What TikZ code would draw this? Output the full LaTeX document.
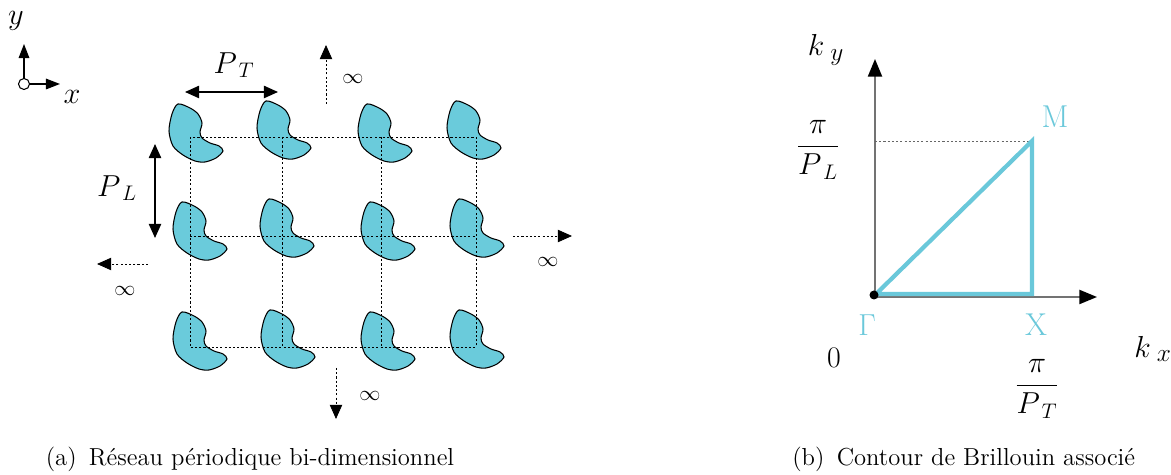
\documentclass[tikz,border=0pt]{standalone}
\usetikzlibrary{arrows.meta}
\definecolor{motif}{HTML}{6ACBDB}
\definecolor{zone}{HTML}{6AC8DA}
\begin{document}
\begin{tikzpicture}[x=0.02cm,y=-0.02cm,
  blob/.style={draw=black,fill=motif,line width=0.6pt},
  grille/.style={dash pattern=on 1.2pt off 1.2pt,line width=0.5pt},
  infini/.style={grille,-{Triangle[width=7pt,length=8pt]}},
  cote/.style={line width=0.8pt,{Triangle[width=7pt,length=8pt]}-{Triangle[width=7pt,length=8pt]}},
  fleche/.style={line width=0.8pt,-{Triangle[width=6pt,length=8pt]}},
  axe/.style={draw=black!55,line width=1pt,-{Triangle[width=8pt,length=10pt,color=black]}},
  lab/.style={font=\fontsize{17}{19}\selectfont,inner sep=0pt},
  inf/.style={font=\fontsize{12}{13}\selectfont,inner sep=0pt},
  pt/.style={lab,font=\fontsize{18}{20}\selectfont,text=zone},
  legende/.style={font=\fontsize{14}{16}\selectfont,inner sep=0pt}]
   \useasboundingbox (0,0) rectangle (1171,475);

   % (a) reseau
   \node[circle,draw,line width=0.6pt,inner sep=0pt,minimum size=0.22cm] (o) at (24,84) {};
   \coordinate (oy) at (24,44);
   \coordinate (ox) at (60,84);
   \draw[fleche] (o.north) -- (oy);
   \draw[fleche] (o.east) -- (ox);
   \node[lab] (ly) at (16,21) {$y$};
   \node[lab] (lx) at (72,97) {$x$};

   \foreach \bx/\by in {178/104,266/101,367/104,456/101,
                        182/202,269/199,370/202,459/199,
                        182/312,270/310,370/312,459/310}
   {
     \draw[blob,shift={(\bx,\by)}] plot[smooth cycle] coordinates
       {(0,0) (12,4) (20,10) (24,19) (22,28) (24,34) (32,39) (41,42)
        (45,47) (38,54) (27,58) (17,57) (5,51) (-5,42) (-9,27) (-6,10)};
   }

   \draw[grille] (190,137) rectangle (476,347);
   \draw[grille] (282,137) -- (282,347);
   \draw[grille] (381,137) -- (381,347);
   \draw[grille] (190,236) -- (476,236);

   \coordinate (pt1) at (185,92);
   \coordinate (pt2) at (278,92);
   \draw[cote] (pt1) -- (pt2);
   \node[lab] (lpt) at (234,65) {$P_{\;T}$};
   \coordinate (pl1) at (155,144);
   \coordinate (pl2) at (155,238);
   \draw[cote] (pl1) -- (pl2);
   \node[lab] (lpl) at (117,188) {$P_{\;L}$};

   \coordinate (h1) at (326,104);
   \coordinate (h2) at (326,45);
   \draw[infini] (h1) -- (h2);
   \node[inf] (ih) at (353,79) {$\infty$};
   \coordinate (d1) at (513,236);
   \coordinate (d2) at (572,236);
   \draw[infini] (d1) -- (d2);
   \node[inf] (id) at (548,262) {$\infty$};
   \coordinate (g1) at (148,264);
   \coordinate (g2) at (97,264);
   \draw[infini] (g1) -- (g2);
   \node[inf] (ig) at (125,291) {$\infty$};
   \coordinate (b1) at (336,368);
   \coordinate (b2) at (336,419);
   \draw[infini] (b1) -- (b2);
   \node[inf] (ib) at (370,396) {$\infty$};

   \node[legende] (capa) at (250,459) {(a)\enspace R\'eseau p\'eriodique bi-dimensionnel};

   % (b) zone de Brillouin
   \coordinate (O) at (875,297);
   \coordinate (ky) at (875,59);
   \coordinate (kx) at (1097,297);
   \draw[axe] (O) -- (ky);
   \draw[axe] (O) -- (kx);
   \coordinate (G) at (876,294);
   \coordinate (X) at (1032,294);
   \coordinate (M) at (1032,141);
   \coordinate (yM) at (875,141);
   \draw[grille,draw=black!60] (yM) -- (M);
   \draw[zone,line width=2.4pt] (G) -- (X) -- (M) -- cycle;
   \fill (874,295) circle[radius=0.09cm];

   \node[lab,font=\fontsize{19}{21}\selectfont] (lky) at (826,50) {$k_{\;y}$};
   \node[lab,font=\fontsize{19}{21}\selectfont] (lkx) at (1153,349) {$k_{\;x}$};
   \node[lab] (l0) at (834,358) {0};
   \node[lab,font=\fontsize{18}{20}\selectfont] (fl) at (818,150) {$\displaystyle\frac{\pi}{P_{\;L}}$};
   \node[lab,font=\fontsize{18}{20}\selectfont] (ft) at (1037,389) {$\displaystyle\frac{\pi}{P_{\;T}}$};
   \node[pt] (lM) at (1055,117) {M};
   \node[pt] (lG) at (867,325) {$\Gamma$};
   \node[pt] (lX) at (1036,325) {X};

   \node[legende,anchor=west] (capb) at (792,459) {(b)\enspace Contour de Brillouin associ\'e};
\end{tikzpicture}
\end{document}
